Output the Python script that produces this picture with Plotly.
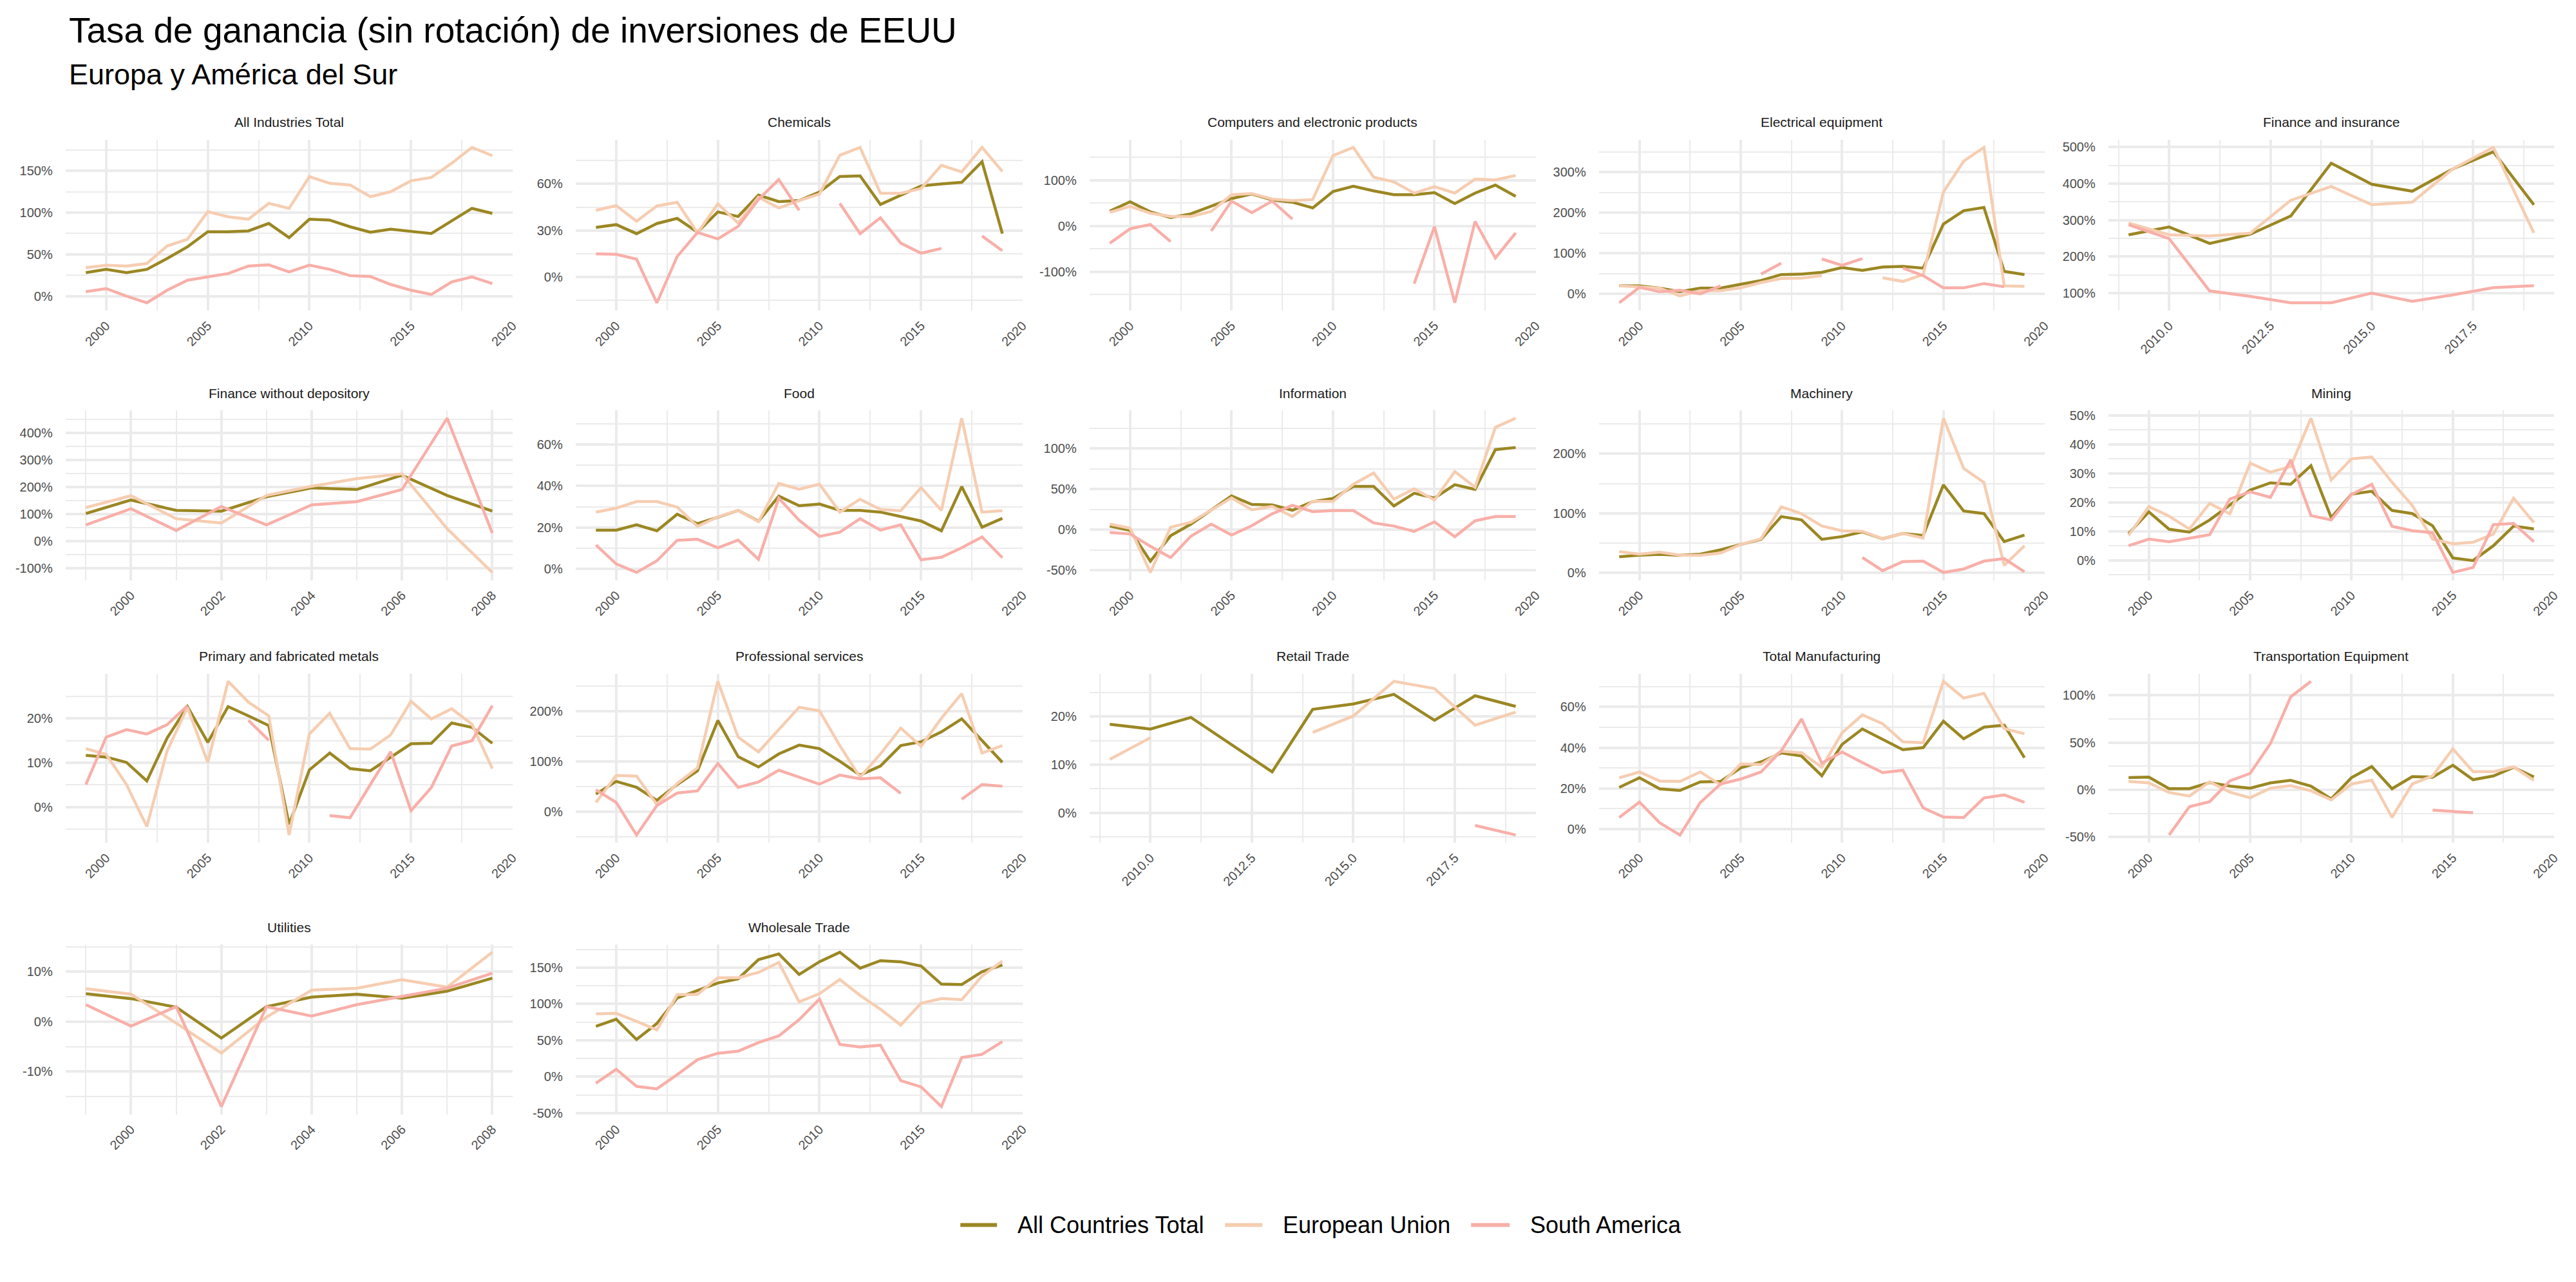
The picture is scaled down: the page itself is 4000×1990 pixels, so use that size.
import plotly.graph_objects as go

# ---------------- data ----------------
YEARS_A = [1999, 2000, 2001, 2002, 2003, 2004, 2005, 2006, 2007, 2008, 2009,
           2010, 2011, 2012, 2013, 2014, 2015, 2016, 2017, 2018, 2019]
YEARS_B = [1999, 2000, 2001, 2002, 2003, 2004, 2005, 2006, 2007, 2008]
YEARS_C = [2009, 2010, 2011, 2012, 2013, 2014, 2015, 2016, 2017, 2018, 2019]

SERIES = ["All Countries Total", "European Union", "South America"]
COLORS = ["#9B8723", "#F6CDB1", "#F8AFA8"]

# All Industries Total
ind_all = [28, 32, 28, 32, 45, 59, 77, 77, 78, 87, 70, 92, 91, 83, 76.5, 80, 77.5, 75, 90, 105, 99]
ind_eu = [34, 37, 36, 39, 60, 68, 101, 95, 92, 111, 105, 143, 135, 133, 119, 125, 138, 142, 159, 178, 168]
ind_sa = [5.4, 9, 0, -8, 7, 19, 23, 27, 36, 37.5, 29, 37, 32, 24.5, 23.5, 14, 7, 2, 17, 23, 15]
# Chemicals
chem_all = [32, 33.8, 28, 34.5, 37.8, 29, 42, 39, 52.8, 48.6, 49.3, 54.8, 64.8, 65.2, 46.8, 52.8, 58.7, 60, 61, 74.3, 28]
chem_eu = [43, 46, 36, 45.8, 48.2, 28.5, 47.2, 34.8, 51.4, 44.5, 49.3, 53.5, 78.4, 83.5, 54, 54, 57, 72, 67.7, 83.5, 68]
chem_sa = [15, 14.7, 11.6, -16.5, 13.3, 28.8, 24.6, 32.7, 50, 62.8, 43, None, 47.5, 28, 38.2, 21.9, 15.4, 18.5, None, 26.5, 17]
# Computers and electronic products
comp_all = [32.6, 53, 31, 18.6, 26.6, 43, 60, 70, 57, 52, 39.6, 75.5, 87, 77, 68.5, 68.5, 73, 49, 72, 89.5, 65]
comp_eu = [30, 43, 28, 21, 21, 32, 68.5, 71, 59, 55.5, 58, 154, 172, 107, 96.5, 72, 86, 72, 102.5, 101, 110.5]
comp_sa = [-37.8, -6, 3.3, -34, None, -10.7, 54.5, 29, 54.5, 15, None, None, None, None, None, -126, -1.4, -168, 10, -70, -15]
# Electrical equipment
elec_all = [20, 19.6, 14.3, 5.3, 14.3, 14.3, 23.8, 33, 47.6, 48.7, 53, 65, 57.7, 66, 67.7, 63.5, 172, 205, 213, 55.5, 47.6]
elec_eu = [20, 17, 14.3, -5, 8, 8, 14.8, 28, 38, 38.6, 45, None, None, 39.7, 30.7, 47.6, 251, 327, 361, 19.6, 18.5]
elec_sa = [-22, 16, 5.3, 9, 0, 19.6, None, 48.7, 75.7, None, 86, 70.4, 87, None, 63.5, 45, 14.8, 14.8, 25.4, 17.5, None]
# Finance and insurance (2009-2019)
fin_all = [259.5, 281, 236, 261, 311, 455.6, 398, 379, 440, 487, 342]
fin_eu = [292, 259.5, 256.5, 264, 354, 392, 342, 349, 440, 499, 265]
fin_sa = [287, 249, 106, 91, 73.4, 73.4, 100, 77.6, 95, 115, 120]
# Finance without depository (1999-2008)
fwd_all = [102, 152, 114, 111, 164, 197, 191, 244, 169, 111]
fwd_eu = [124, 168, 83, 67, 169, 203, 231, 249, 46, -116]
fwd_sa = [60, 120, 39, 128, 60, 134, 146, 191, 455, 30]
# Food
food_all = [18.7, 18.7, 21.3, 18.4, 26.4, 21.8, 24.9, 28.2, 23, 35.1, 30.5, 31.3, 28.2, 28.2, 27.4, 25.1, 23.1, 18.4, 39.7, 20.1, 24.4]
food_eu = [27.4, 29.3, 32.5, 32.5, 29.8, 20.5, 25.1, 28.2, 22.8, 41.2, 38.4, 40.9, 27.4, 33.6, 28.7, 28.1, 39.2, 28.2, 72.7, 27.4, 28.1]
food_sa = [11.6, 2.4, -1.7, 3.9, 13.8, 14.3, 10.2, 13.9, 4.6, 34.1, 23.5, 15.7, 17.7, 24.2, 18.7, 21.3, 4.4, 5.6, 10.2, 15.4, 5.4]
# Information
info_all = [4.5, -0.8, -38.7, -7.3, 7, 24, 41.6, 31.2, 30.6, 24, 34.6, 38.5, 53.4, 53.4, 29.3, 45, 39, 55.5, 49.7, 98.7, 101.3]
info_eu = [7, 1.8, -52.6, 3.1, 9.2, 24, 39.3, 24.6, 28.8, 16.2, 35, 35, 56, 69.9, 37.7, 50.3, 36.6, 71.7, 52.4, 126, 137.4]
info_sa = [-3.4, -5.2, -20.4, -34.3, -7.9, 7, -6.5, 5, 19.6, 30.1, 22.3, 23.6, 23.6, 8.4, 4.5, -2.1, 9.7, -8.6, 11, 16.2, 16.2]
# Machinery
mach_all = [27, 29.7, 31, 29.4, 31.5, 38.7, 47.7, 56.3, 94.6, 89, 56.3, 61, 68.8, 57.3, 66.3, 62.7, 148, 104, 99.6, 52.7, 63.4]
mach_eu = [35.8, 31.5, 34.8, 29.7, 29.4, 33.3, 47.7, 57.3, 111, 99.3, 78.9, 70.6, 69.9, 57.3, 66.3, 58.4, 259.9, 175.6, 152, 12.5, 45.5]
mach_sa = [None, None, None, None, None, None, None, None, None, None, None, None,
           25.8, 3.6, 19, 19.7, 0.7, 6.5, 19.7, 24, 1.8]
# Mining
min_all = [9.2, 16.7, 10.7, 9.7, 13.9, 18.9, 24.2, 26.7, 26.2, 32.6, 14.7, 22.8, 23.8, 17.2, 16.1, 11.9, 0.8, -0.1, 5, 11.8, 10.8]
min_eu = [8.6, 18.5, 15.2, 10.8, 19.6, 16, 33.5, 30.4, 32.3, 49, 27.7, 35, 35.6, 26.9, 18.9, 7.3, 5.7, 6.2, 9, 21.4, 13]
min_sa = [5, 7.3, 6.4, 7.5, 8.8, 21.1, 23.6, 21.7, 34.6, 15.4, 13.9, 22.7, 26.2, 11.7, 10.2, 9.5, -4.2, -2.5, 12.3, 12.7, 6.4]
# Primary and fabricated metals
met_all = [11.7, 11.3, 10.1, 5.9, 15.6, 22.7, 14.6, 22.7, 20.6, 18.4, -3.9, 8.4, 12.2, 8.7, 8.2, 11.3, 14.3, 14.4, 19, 18, 14.4]
met_eu = [13.2, 11.9, 5.1, -4.4, 12.7, 22.5, 10.1, 28.4, 23.7, 20.6, -6.3, 16.5, 21.2, 13.2, 13.1, 16.3, 23.9, 19.9, 22.2, 18.7, 8.7]
met_sa = [5.1, 15.8, 17.5, 16.5, 18.6, 22.9, None, None, 19.6, 15.1, None, None, -1.9, -2.4, 5.1, 12.5, -0.8, 4.4, 13.8, 15, 22.9]
# Professional services
prof_all = [35.6, 60.8, 49, 23, 54.5, 81.8, 182, 110, 89.5, 115.5, 133, 126, 100.8, 73.4, 91.4, 132, 139.6, 159.3, 185.3, 142.6, 98.7]
prof_eu = [18.9, 72.5, 71.3, 14.7, 56.6, 88, 260, 148.8, 119.5, 163.5, 208.4, 201.3, 132, 69.2, 115.3, 166.9, 130.8, 186.6, 235.6, 117.4, 132]
prof_sa = [44, 18.9, -46, 12.6, 37.7, 41.9, 96.4, 49, 59.5, 83, 69.2, 55.3, 73.4, 65.8, 67.9, 36.9, None, None, 25.2, 54.5, 51.2]
# Retail Trade (2009-2019)
ret_all = [18.4, 17.4, 19.8, 14.2, 8.5, 21.5, 22.6, 24.6, 19.2, 24.3, 22.1]
ret_eu = [11.1, 15.6, None, None, None, 16.7, 20.1, 27.3, 25.8, 18.2, 20.9]
ret_sa = [None, None, None, None, None, None, None, None, None, -2.6, -4.6]
# Total Manufacturing
man_all = [20.5, 25.2, 19.8, 19, 23.2, 23.4, 30.1, 33, 37.4, 35.9, 26.2, 41.6, 49.2, 44, 39, 40, 53, 44.4, 50.1, 51.1, 35.1]
man_eu = [25.2, 28.1, 23.6, 23.4, 28.1, 21.8, 32, 31.7, 38.3, 37.5, 30.4, 47.3, 56.1, 51.8, 42.9, 42.4, 72.6, 64.4, 66.7, 49.4, 46.8]
man_sa = [5.7, 13.3, 3.1, -2.9, 13, 22.1, 24.6, 28.1, 38.5, 54.1, 32.4, 37.9, 32.7, 27.8, 28.9, 10.4, 5.9, 5.7, 15.3, 16.8, 13.2]
# Transportation Equipment
tra_all = [12.8, 13.3, 1.1, 1.1, 7.6, 3.8, 1.6, 7.2, 9.9, 3.8, -9.7, 12.8, 24.5, 1.1, 13.9, 13.3, 25.9, 10.6, 14.6, 23.6, 13.5]
tra_eu = [8.8, 7.2, -2.9, -6.7, 8.3, -2.5, -8.5, 1.6, 4.3, -1.1, -10.8, 6.1, 10.1, -29.2, 6.1, 14.6, 43.2, 19.1, 19.1, 24.1, 9.9]
tra_sa = [None, None, -47.9, -18, -12.6, 9.4, 17.3, 48.8, 98.3, 114.7, None, None, None, None, None, -21.6, -23.2, -24.3, None, None, None]
# Utilities (1999-2008)
uti_all = [5.6, 4.6, 2.9, -3.3, 3, 4.9, 5.5, 4.7, 6.1, 8.7]
uti_eu = [6.6, 5.5, -0.3, -6.3, 0.9, 6.3, 6.7, 8.4, 6.9, 13.9]
uti_sa = [3.4, -0.9, 3, -17, 3, 1.1, 3.4, 5.1, 6.7, 9.7]
# Wholesale Trade
who_all = [69.3, 79, 51.2, 73.1, 108.2, 118.4, 128.7, 134.5, 160.8, 168.7, 140.4, 157.9, 171, 149.1, 159.4, 157.9, 152, 127.2, 126.6, 144.2, 153.5]
who_eu = [86.3, 87.1, 76, 64.3, 112.6, 113.2, 136, 136, 143.3, 157, 102.9, 114, 133.6, 111.7, 92.7, 71, 100.9, 107.3, 105.8, 138.3, 158.8]
who_sa = [-8.8, 10.2, -13.2, -16.7, 2.9, 23.4, 32.2, 35.1, 46.8, 56.1, 78.4, 106.7, 44.4, 40.9, 43.3, -5.3, -14, -40.9, 26.3, 30.7, 48.2]

# tick breaks
XT_A = [2000, 2005, 2010, 2015, 2020]
XL_A = ["2000", "2005", "2010", "2015", "2020"]
XT_B = [2000, 2002, 2004, 2006, 2008]
XL_B = ["2000", "2002", "2004", "2006", "2008"]
XT_C = [2010, 2012.5, 2015, 2017.5]
XL_C = ["2010.0", "2012.5", "2015.0", "2017.5"]

PANELS = [
    ("All Industries Total", YEARS_A, ind_all, ind_eu, ind_sa, XT_A, XL_A, [0, 50, 100, 150]),
    ("Chemicals", YEARS_A, chem_all, chem_eu, chem_sa, XT_A, XL_A, [0, 30, 60]),
    ("Computers and electronic products", YEARS_A, comp_all, comp_eu, comp_sa, XT_A, XL_A, [-100, 0, 100]),
    ("Electrical equipment", YEARS_A, elec_all, elec_eu, elec_sa, XT_A, XL_A, [0, 100, 200, 300]),
    ("Finance and insurance", YEARS_C, fin_all, fin_eu, fin_sa, XT_C, XL_C, [100, 200, 300, 400, 500]),
    ("Finance without depository", YEARS_B, fwd_all, fwd_eu, fwd_sa, XT_B, XL_B, [-100, 0, 100, 200, 300, 400]),
    ("Food", YEARS_A, food_all, food_eu, food_sa, XT_A, XL_A, [0, 20, 40, 60]),
    ("Information", YEARS_A, info_all, info_eu, info_sa, XT_A, XL_A, [-50, 0, 50, 100]),
    ("Machinery", YEARS_A, mach_all, mach_eu, mach_sa, XT_A, XL_A, [0, 100, 200]),
    ("Mining", YEARS_A, min_all, min_eu, min_sa, XT_A, XL_A, [0, 10, 20, 30, 40, 50]),
    ("Primary and fabricated metals", YEARS_A, met_all, met_eu, met_sa, XT_A, XL_A, [0, 10, 20]),
    ("Professional services", YEARS_A, prof_all, prof_eu, prof_sa, XT_A, XL_A, [0, 100, 200]),
    ("Retail Trade", YEARS_C, ret_all, ret_eu, ret_sa, XT_C, XL_C, [0, 10, 20]),
    ("Total Manufacturing", YEARS_A, man_all, man_eu, man_sa, XT_A, XL_A, [0, 20, 40, 60]),
    ("Transportation Equipment", YEARS_A, tra_all, tra_eu, tra_sa, XT_A, XL_A, [-50, 0, 50, 100]),
    ("Utilities", YEARS_B, uti_all, uti_eu, uti_sa, XT_B, XL_B, [-10, 0, 10]),
    ("Wholesale Trade", YEARS_A, who_all, who_eu, who_sa, XT_A, XL_A, [-50, 0, 50, 100, 150]),
]

# ---------------- layout geometry (pixels) ----------------
W, H = 4000, 1990
COL_X = [(102, 798), (896, 1592), (1696, 2391), (2489, 3183), (3282, 3976)]
ROW_Y = [(215, 482), (638, 903), (1049, 1313), (1472, 1737)]
FONT = "Liberation Sans, Arial, Helvetica, sans-serif"
GRID = "#EBEBEB"
TICK_COL = "#4D4D4D"


def px_x(v):
    return v / W


def px_y(v):
    return 1 - v / H


def expand(lo, hi, f=0.05):
    s = hi - lo
    return [lo - f * s, hi + f * s]


def minors(ticks, rng):
    step = ticks[1] - ticks[0]
    cand = [ticks[0] - step / 2] + [t + step / 2 for t in ticks]
    return [m for m in cand if rng[0] <= m <= rng[1]]


def fmt(v):
    return ("%g" % v) + "%"


fig = go.Figure()
layout = {}
annotations = []

for i, (name, years, s_all, s_eu, s_sa, xt, xl, yt) in enumerate(PANELS):
    r, c = divmod(i, 5)
    n = i + 1
    xname = "x" if n == 1 else f"x{n}"
    yname = "y" if n == 1 else f"y{n}"
    for sname, vals, col in zip(SERIES, [s_all, s_eu, s_sa], COLORS):
        fig.add_trace(go.Scatter(
            x=years, y=vals, mode="lines", name=sname,
            line=dict(color=col, width=4.5), connectgaps=False,
            showlegend=False, xaxis=xname, yaxis=yname,
            hovertemplate=name + "<br>" + sname + "<br>%{x}: %{y:.1f}%<extra></extra>",
        ))
    allv = [v for s in (s_all, s_eu, s_sa) for v in s if v is not None]
    yr = expand(min(allv), max(allv))
    xr = expand(min(years), max(years))
    x0, x1 = COL_X[c]
    y0, y1 = ROW_Y[r]
    layout["xaxis" if n == 1 else f"xaxis{n}"] = dict(
        domain=[px_x(x0), px_x(x1)], anchor=yname, range=xr,
        tickmode="array", tickvals=xt, ticktext=xl, tickangle=-45,
        showgrid=True, gridcolor=GRID, gridwidth=3.5,
        minor=dict(tickmode="array", tickvals=minors(xt, xr), showgrid=True,
                   gridcolor=GRID, gridwidth=1.8),
        zeroline=False, showline=False, ticks="outside", ticklen=3,
        tickcolor="rgba(0,0,0,0)",
        tickfont=dict(family=FONT, size=20, color=TICK_COL), fixedrange=True,
    )
    layout["yaxis" if n == 1 else f"yaxis{n}"] = dict(
        domain=[px_y(y1), px_y(y0)], anchor=xname, range=yr,
        tickmode="array", tickvals=yt, ticktext=[fmt(v) for v in yt],
        showgrid=True, gridcolor=GRID, gridwidth=3.5,
        minor=dict(tickmode="array", tickvals=minors(yt, yr), showgrid=True,
                   gridcolor=GRID, gridwidth=1.8),
        zeroline=False, showline=False, ticks="outside", ticklen=15,
        tickcolor="rgba(0,0,0,0)",
        tickfont=dict(family=FONT, size=20, color=TICK_COL), fixedrange=True,
    )
    annotations.append(dict(
        text=name, xref="paper", yref="paper",
        x=px_x((x0 + x1) / 2), y=px_y(y0 - 27), xanchor="center", yanchor="middle",
        showarrow=False, font=dict(family=FONT, size=21, color="#1A1A1A"),
    ))

# title & subtitle
annotations.append(dict(
    text="Tasa de ganancia (sin rotación) de inversiones de EEUU",
    xref="paper", yref="paper", x=px_x(105), y=px_y(44), xanchor="left", yanchor="middle",
    showarrow=False, font=dict(family=FONT, size=55, color="#000000"),
))
annotations.append(dict(
    text="Europa y América del Sur",
    xref="paper", yref="paper", x=px_x(105), y=px_y(113), xanchor="left", yanchor="middle",
    showarrow=False, font=dict(family=FONT, size=45, color="#000000"),
))

# legend (bottom, centred)
shapes = []
LEG_Y = 1910
LEG_SW = [(1495, 1552), (1907, 1965), (2290, 2350)]
LEG_TX = [1582, 1995, 2380]
for sname, col, (sx0, sx1), tx in zip(SERIES, COLORS, LEG_SW, LEG_TX):
    shapes.append(dict(type="line", xref="paper", yref="paper",
                       x0=px_x(sx0), x1=px_x(sx1), y0=px_y(LEG_Y), y1=px_y(LEG_Y),
                       line=dict(color=col, width=6)))
    annotations.append(dict(
        text=sname, xref="paper", yref="paper", x=px_x(tx), y=px_y(LEG_Y),
        xanchor="left", yanchor="middle", showarrow=False,
        font=dict(family=FONT, size=36, color="#000000"),
    ))

fig.update_layout(
    width=W, height=H, margin=dict(l=0, r=0, t=0, b=0),
    paper_bgcolor="white", plot_bgcolor="white",
    showlegend=False, annotations=annotations, shapes=shapes,
    font=dict(family=FONT), **layout,
)

fig.write_html("out.html")
